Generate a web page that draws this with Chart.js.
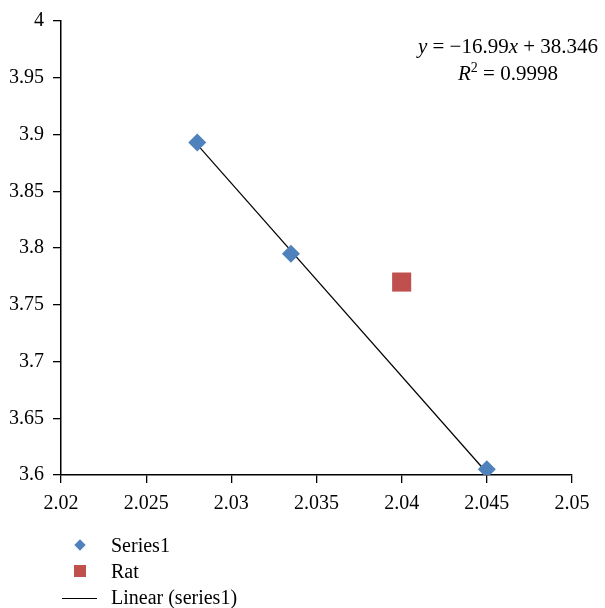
<!DOCTYPE html>
<html>
<head>
<meta charset="utf-8">
<script src="https://cdn.jsdelivr.net/npm/chart.js@4.4.1/dist/chart.umd.min.js"></script>
<style>
  html, body { margin: 0; padding: 0; background: #fff; }
  #wrap { position: relative; width: 605px; height: 608px; font-family: "Liberation Serif", "DejaVu Serif", serif; color: #000; overflow: hidden; }
  #c { position: absolute; left: 0; top: 0; }
  #eq { position: absolute; left: 380px; top: 33px; width: 256px; text-align: center; font-size: 21px; line-height: 27px; }
  #legend { position: absolute; left: 60px; top: 532px; font-size: 20px; line-height: 26px; }
  .row { position: relative; height: 26px; padding-left: 51px; white-space: nowrap; }
  .sym { position: absolute; }
  .dia { left: 16px; top: 9px; width: 8px; height: 8px; background: #4F81BD; transform: rotate(45deg); }
  .sq { left: 14px; top: 7px; width: 12px; height: 12px; background: #C0504D; }
  .ln { left: 2px; top: 14px; width: 35px; height: 1px; background: #000; }
</style>
</head>
<body>
<div id="wrap">
  <canvas id="c" width="605" height="608"></canvas>
  <div id="eq"><div><i>y</i> = −16.99<i>x</i> + 38.346</div><div><i>R</i><sup style="font-size:14px;vertical-align:8px;line-height:0">2</sup> = 0.9998</div></div>
  <div id="legend"></div>
</div>
<script>
// ---- data ----
const series1X = [2.028, 2.0335, 2.045];
const series1Y = [3.893, 3.795, 3.605];
const ratX = [2.04];
const ratY = [3.77];
const trendX = [2.028, 2.045];
const trendY = [3.891, 3.602];
const xTickValues = [2.02, 2.025, 2.03, 2.035, 2.04, 2.045, 2.05];
const xTickLabels = ["2.02", "2.025", "2.03", "2.035", "2.04", "2.045", "2.05"];
const yTickValues = [3.6, 3.65, 3.7, 3.75, 3.8, 3.85, 3.9, 3.95, 4];
const yTickLabels = ["3.6", "3.65", "3.7", "3.75", "3.8", "3.85", "3.9", "3.95", "4"];
const seriesNames = ["Series1", "Rat", "Linear (series1)"];

const toPts = (xs, ys) => xs.map((x, i) => ({ x: x, y: ys[i] }));
const FONT = { family: '"Liberation Serif", "DejaVu Serif", serif', size: 20 };

const chart = new Chart(document.getElementById('c'), {
  type: 'scatter',
  data: {
    datasets: [
      { label: seriesNames[2], data: toPts(trendX, trendY), showLine: true, borderColor: '#000', borderWidth: 1.2, pointRadius: 0, fill: false, order: 3 },
      { label: seriesNames[0], data: toPts(series1X, series1Y), pointStyle: 'rectRot', pointRadius: 9, pointHoverRadius: 9, backgroundColor: '#4F81BD', borderColor: '#4F81BD', borderWidth: 0, order: 2 },
      { label: seriesNames[1], data: toPts(ratX, ratY), pointStyle: 'rect', pointRadius: 13.5, pointHoverRadius: 13.5, backgroundColor: '#C0504D', borderColor: '#C0504D', borderWidth: 0, order: 1 }
    ]
  },
  options: {
    responsive: false,
    animation: false,
    events: [],
    layout: { padding: { top: 19, right: 33, bottom: 98, left: 0 } },
    plugins: { legend: { display: false }, tooltip: { enabled: false } },
    scales: {
      x: {
        type: 'linear', min: 2.02, max: 2.05,
        afterFit: s => { s.height = 35; },
        afterBuildTicks: s => { s.ticks = xTickValues.map(v => ({ value: v })); },
        ticks: { font: FONT, color: '#000', padding: 9, maxRotation: 0, callback: (v, i) => xTickLabels[i] },
        grid: { drawOnChartArea: false, drawTicks: true, tickLength: 8, color: '#000', lineWidth: 1.3 },
        border: { color: '#000', width: 1.5 }
      },
      y: {
        type: 'linear', min: 3.6, max: 4,
        afterFit: s => { s.width = 61; },
        afterBuildTicks: s => { s.ticks = yTickValues.map(v => ({ value: v })); },
        ticks: { font: FONT, color: '#000', padding: 9, callback: (v, i) => yTickLabels[i] },
        grid: { drawOnChartArea: false, drawTicks: true, tickLength: 8, color: '#000', lineWidth: 1.3 },
        border: { color: '#000', width: 1.5 }
      }
    }
  }
});

// HTML legend
const legend = document.getElementById('legend');
const symClass = ['dia', 'sq', 'ln'];
seriesNames.forEach((n, i) => {
  const row = document.createElement('div');
  row.className = 'row';
  const s = document.createElement('div');
  s.className = 'sym ' + symClass[i];
  row.appendChild(s);
  row.appendChild(document.createTextNode(n));
  legend.appendChild(row);
});
</script>
</body>
</html>
